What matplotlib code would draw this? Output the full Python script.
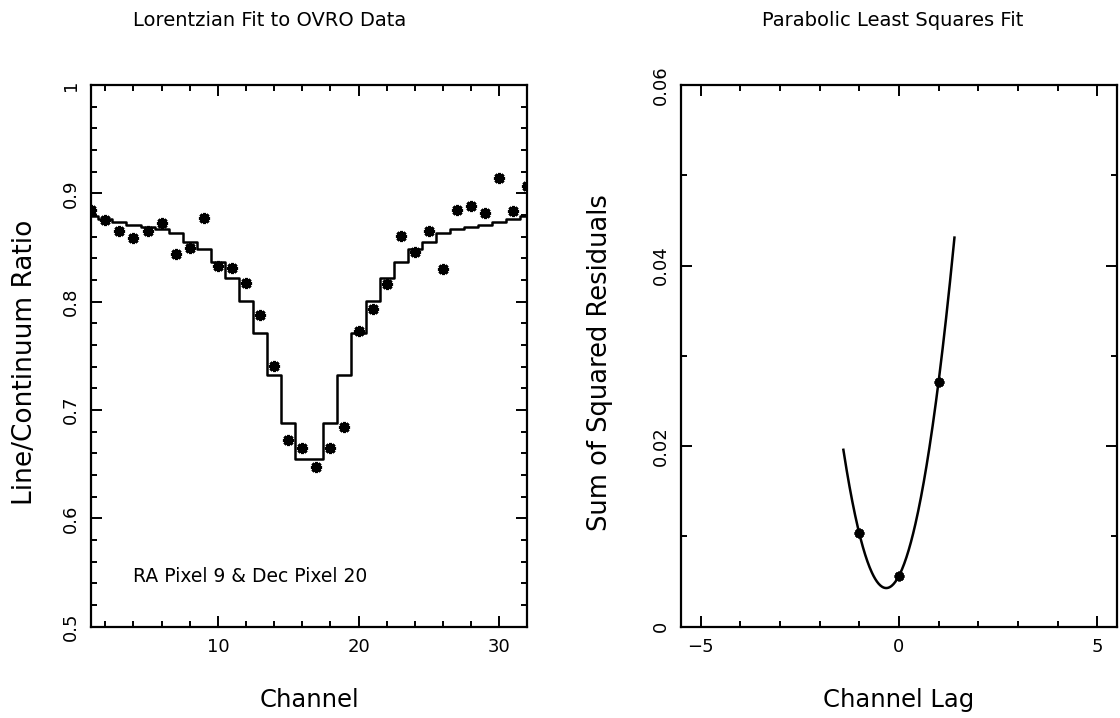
import numpy as np
import matplotlib
matplotlib.use('Agg')
import matplotlib.pyplot as plt
from matplotlib.ticker import MultipleLocator

# Lorentzian fit panel: observed ratio per channel and the fitted model
channels = np.arange(1, 33)
observed = [0.885, 0.875, 0.865, 0.859, 0.865, 0.873, 0.844, 0.850, 0.877, 0.833,
            0.831, 0.817, 0.788, 0.741, 0.672, 0.665, 0.647, 0.665, 0.684, 0.773,
            0.793, 0.816, 0.861, 0.846, 0.865, 0.830, 0.885, 0.888, 0.882, 0.914,
            0.884, 0.907]
model = [0.879, 0.876, 0.874, 0.871, 0.869, 0.867, 0.863, 0.855, 0.849, 0.837,
         0.822, 0.801, 0.771, 0.732, 0.688, 0.655, 0.655, 0.688, 0.732, 0.771,
         0.801, 0.822, 0.837, 0.849, 0.855, 0.863, 0.867, 0.869, 0.871, 0.874,
         0.876, 0.879]
ratio_ticks = [0.5, 0.6, 0.7, 0.8, 0.9, 1.0]
ratio_labels = ['0.5', '0.6', '0.7', '0.8', '0.9', '1']

# parabolic fit panel
lags = [-1, 0, 1]
residuals = [0.01035, 0.00562, 0.02714]
fit_range = (-1.4, 1.4)
resid_ticks = [0, 0.02, 0.04, 0.06]
resid_labels = ['0', '0.02', '0.04', '0.06']

plt.rcParams['font.family'] = ['DejaVu Sans']

fig = plt.figure(figsize=(11.2, 7.18), dpi=100)
ax1 = fig.add_axes([0.0815, 0.1272, 0.3893, 0.7544])
ax2 = fig.add_axes([0.6078, 0.1272, 0.3896, 0.7544])

star = (8, 2, 0)

ax1.plot(channels, model, drawstyle='steps-mid', color='black', lw=1.8)
ax1.plot(channels, observed, ls='none', marker=star, ms=8, mew=2.2, color='black')
ax1.set_xlim(1, 32)
ax1.set_ylim(0.5, 1.0)
ax1.set_xticks([10, 20, 30], labels=['10', '20', '30'])
ax1.xaxis.set_minor_locator(MultipleLocator(2))
ax1.set_yticks(ratio_ticks, labels=ratio_labels)
ax1.yaxis.set_minor_locator(MultipleLocator(0.02))
ax1.text(4, 0.546, 'RA Pixel 9 & Dec Pixel 20', fontsize=13.5, va='center')

coef = np.polyfit(lags, residuals, 2)
xs = np.linspace(fit_range[0], fit_range[1], 200)
ax2.plot(xs, np.polyval(coef, xs), color='black', lw=1.8)
ax2.plot(lags, residuals, ls='none', marker=star, ms=7, mew=2.0, color='black')
ax2.set_xlim(-5.5, 5.5)
ax2.set_ylim(0, 0.06)
ax2.set_xticks([-5, 0, 5], labels=['\u22125', '0', '5'])
ax2.xaxis.set_minor_locator(MultipleLocator(1))
ax2.set_yticks(resid_ticks, labels=resid_labels)
ax2.yaxis.set_minor_locator(MultipleLocator(0.01))

for ax in (ax1, ax2):
    for sp in ax.spines.values():
        sp.set_linewidth(1.6)
    ax.tick_params(which='both', direction='in', top=True, right=True, width=1.4)
    ax.tick_params(which='major', length=8, labelsize=13, pad=8)
    ax.tick_params(which='minor', length=4.5)
    for lab in ax.get_yticklabels():
        lab.set_rotation(90)
        lab.set_va('center')

fig.text(0.241, 0.972, 'Lorentzian Fit to OVRO Data', fontsize=14, ha='center', va='center')
fig.text(0.797, 0.972, 'Parabolic Least Squares Fit', fontsize=14, ha='center', va='center')
fig.text(0.276, 0.025, 'Channel', fontsize=17.5, ha='center', va='center')
fig.text(0.802, 0.025, 'Channel Lag', fontsize=17.5, ha='center', va='center')
fig.text(0.022, 0.495, 'Line/Continuum Ratio', fontsize=19, rotation=90, ha='center', va='center')
fig.text(0.536, 0.495, 'Sum of Squared Residuals', fontsize=18.5, rotation=90, ha='center', va='center')

fig.savefig('out.png', dpi=100)
